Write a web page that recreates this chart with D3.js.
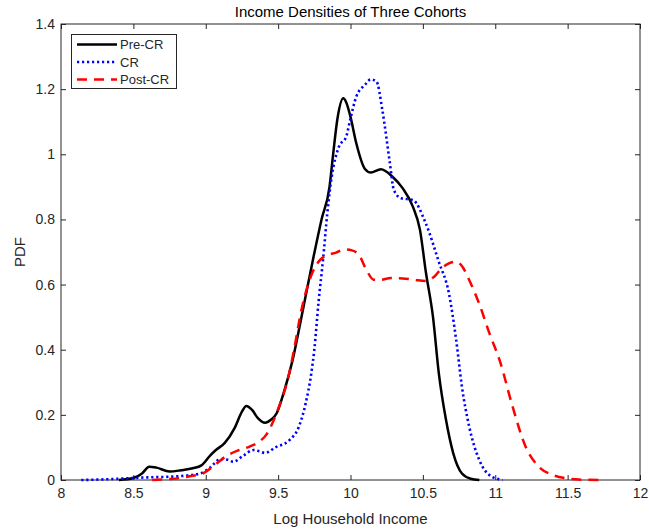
<!DOCTYPE html>
<html><head><meta charset="utf-8">
<script src="https://cdn.jsdelivr.net/npm/d3@7"></script>
<style>html,body{margin:0;padding:0;background:#fff;}svg{display:block;}</style>
</head><body>
<svg id="c" width="649" height="531"></svg>
<script>
const title = "Income Densities of Three Cohorts";
const xLabel = "Log Household Income";
const yLabel = "PDF";
const xTicks = [8, 8.5, 9, 9.5, 10, 10.5, 11, 11.5, 12];
const yTicks = [0, 0.2, 0.4, 0.6, 0.8, 1, 1.2, 1.4];
const seriesNames = ["Pre-CR", "CR", "Post-CR"];

const preX = [8.40,8.50,8.56,8.61,8.66,8.75,8.83,8.91,8.97,9.03,9.07,9.13,9.20,9.25,9.28,9.32,9.36,9.41,9.45,9.49,9.54,9.60,9.67,9.74,9.80,9.855,9.88,9.91,9.95,9.97,10.00,10.04,10.10,10.14,10.21,10.29,10.36,10.43,10.48,10.52,10.57,10.61,10.66,10.71,10.77,10.83,10.89];
const preY = [0,0.006,0.02,0.041,0.038,0.026,0.03,0.036,0.045,0.075,0.092,0.113,0.16,0.21,0.227,0.215,0.19,0.176,0.185,0.205,0.27,0.368,0.52,0.675,0.8,0.9,1.0,1.11,1.172,1.16,1.115,1.034,0.955,0.944,0.954,0.931,0.896,0.84,0.768,0.64,0.5,0.328,0.184,0.082,0.02,0.004,0];

const crX = [8.14,8.30,8.45,8.60,8.75,8.85,8.96,9.03,9.10,9.15,9.19,9.26,9.33,9.37,9.41,9.48,9.58,9.64,9.69,9.73,9.75,9.78,9.81,9.84,9.87,9.92,9.97,10.00,10.04,10.10,10.14,10.18,10.22,10.27,10.30,10.35,10.43,10.52,10.61,10.68,10.73,10.77,10.82,10.89,10.96,11.05];
const crY = [0,0.002,0.005,0.008,0.01,0.013,0.02,0.038,0.064,0.062,0.056,0.075,0.092,0.088,0.083,0.1,0.123,0.16,0.235,0.33,0.4,0.55,0.675,0.82,0.93,1.023,1.054,1.11,1.177,1.213,1.23,1.223,1.136,0.98,0.89,0.865,0.86,0.788,0.67,0.573,0.43,0.286,0.164,0.061,0.015,0];

const postX = [8.63,8.75,8.82,8.90,8.98,9.06,9.14,9.22,9.30,9.37,9.42,9.46,9.51,9.56,9.61,9.66,9.70,9.74,9.79,9.84,9.90,9.96,10.01,10.06,10.11,10.16,10.20,10.28,10.36,10.44,10.52,10.58,10.63,10.68,10.73,10.78,10.82,10.89,10.96,11.03,11.12,11.21,11.30,11.40,11.49,11.60,11.72];
const postY = [0,0.003,0.006,0.012,0.02,0.045,0.073,0.09,0.102,0.118,0.14,0.174,0.23,0.297,0.4,0.52,0.59,0.64,0.676,0.69,0.698,0.708,0.705,0.69,0.645,0.615,0.614,0.62,0.619,0.615,0.611,0.625,0.65,0.665,0.67,0.65,0.614,0.54,0.45,0.368,0.225,0.102,0.041,0.015,0.005,0.001,0];

const svg = d3.select("#c");
const m = {l:61, r:640, t:24, b:480};
const x = d3.scaleLinear().domain([8,12]).range([m.l, m.r]);
const y = d3.scaleLinear().domain([0,1.4]).range([m.b, m.t]);
const font = "'Liberation Sans', Arial, Helvetica, sans-serif";
const axCol = "#262626";

const g = svg.append("g");
const tl = 5;
const bx = d3.axisBottom(x).tickValues(xTicks).tickSize(-tl).tickPadding(8).tickFormat(d3.format("~g"));
const ly = d3.axisLeft(y).tickValues(yTicks).tickSize(-tl).tickPadding(6).tickFormat(d3.format("~g"));
const tx = d3.axisTop(x).tickValues(xTicks).tickSize(-tl).tickFormat("");
const ry = d3.axisRight(y).tickValues(yTicks).tickSize(-tl).tickFormat("");
function style(sel){
  sel.selectAll("path").attr("stroke", axCol).attr("stroke-width", 1);
  sel.selectAll("line").attr("stroke", axCol).attr("stroke-width", 1);
  sel.selectAll("text").attr("fill", axCol).style("font-family", font).style("font-size", "14px");
}
g.append("g").attr("transform",`translate(0,${m.b})`).call(bx).call(style).call(s=>s.select(".domain").remove());
g.append("g").attr("transform",`translate(${m.l},0)`).call(ly).call(style).call(s=>s.select(".domain").remove());
g.append("g").attr("transform",`translate(0,${m.t})`).call(tx).call(style).call(s=>s.select(".domain").remove());
g.append("g").attr("transform",`translate(${m.r},0)`).call(ry).call(style).call(s=>s.select(".domain").remove());
g.append("rect").attr("x", m.l).attr("y", m.t).attr("width", m.r-m.l).attr("height", m.b-m.t)
  .attr("fill","none").attr("stroke", axCol).attr("stroke-width", 1);

const line = d3.line().x(d=>x(d[0])).y(d=>y(d[1])).curve(d3.curveMonotoneX);
const series = [
  {name: seriesNames[0], xs: preX, ys: preY, color: "#000000", dash: null, w: 2.5},
  {name: seriesNames[1], xs: crX, ys: crY, color: "#0000ff", dash: "2.2,2.8", w: 2.6},
  {name: seriesNames[2], xs: postX, ys: postY, color: "#ff0000", dash: "10,7", w: 2.5}
];
series.forEach(s=>{
  const pts = s.xs.map((v,i)=>[v, s.ys[i]]);
  svg.append("path").attr("d", line(pts)).attr("fill","none").attr("stroke", s.color)
    .attr("stroke-width", s.w).attr("stroke-dasharray", s.dash).attr("stroke-linecap", "butt")
    .attr("stroke-linejoin","round");
});

const lg = svg.append("g");
lg.append("rect").attr("x", 71.5).attr("y", 34.5).attr("width", 105).attr("height", 54)
  .attr("fill","#fff").attr("stroke", axCol).attr("stroke-width", 1);
series.forEach((s,i)=>{
  const yy = 44.5 + i*17.5;
  lg.append("line").attr("x1", 77).attr("x2", 117).attr("y1", yy).attr("y2", yy)
    .attr("stroke", s.color).attr("stroke-width", s.w).attr("stroke-dasharray", s.dash);
  lg.append("text").attr("x", 120).attr("y", yy).attr("dy","0.35em").text(s.name)
    .attr("fill", axCol).style("font-family", font).style("font-size","13px");
});

svg.append("text").attr("x", (m.l+m.r)/2).attr("y", 17).attr("text-anchor","middle")
  .text(title).attr("fill","#000").style("font-family", font).style("font-size","15px");
svg.append("text").attr("x", (m.l+m.r)/2).attr("y", 524).attr("text-anchor","middle")
  .text(xLabel).attr("fill", axCol).style("font-family", font).style("font-size","15px");
svg.append("text").attr("transform", `translate(25,${(m.t+m.b)/2}) rotate(-90)`).attr("text-anchor","middle")
  .text(yLabel).attr("fill", axCol).style("font-family", font).style("font-size","15px");
</script>
</body></html>
